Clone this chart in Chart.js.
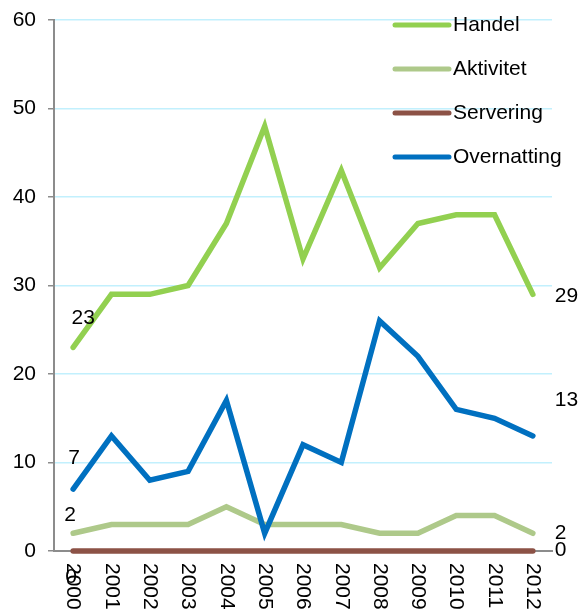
<!DOCTYPE html>
<html><head><meta charset="utf-8">
<script src="https://cdn.jsdelivr.net/npm/chart.js@4/dist/chart.umd.min.js"></script>
<style>html,body{margin:0;padding:0;background:#fff}#wrap{width:580px;height:610px;position:relative}</style>
</head><body><div id="wrap"><canvas id="c" width="580" height="610"></canvas></div>
<script>
const years = ['2000','2001','2002','2003','2004','2005','2006','2007','2008','2009','2010','2011','2012'];
const handel = [23,29,29,30,37,48,33,43,32,37,38,38,29];
const aktivitet = [2,3,3,3,5,3,3,3,2,2,4,4,2];
const servering = [0,0,0,0,0,0,0,0,0,0,0,0,0];
const overnatting = [7,13,8,9,17,2,12,10,26,22,16,15,13];
const seriesNames = ['Handel','Aktivitet','Servering','Overnatting'];
const seriesColors = ['#92D050','#AEC98A','#8C5246','#0070C0'];
const yTickValues = [0,10,20,30,40,50,60];

const FONT = '"Liberation Sans", Arial, sans-serif';
const FS = 21;

const dataSeries = [handel, aktivitet, servering, overnatting];
const drawOrder = [1, 3, 2, 0]; // lower = drawn on top

const datasets = seriesNames.map((n, i) => ({
  label: n,
  data: dataSeries[i],
  borderColor: seriesColors[i],
  backgroundColor: seriesColors[i],
  borderWidth: 5.5,
  pointRadius: 0,
  tension: 0,
  fill: false,
  borderCapStyle: 'round',
  borderJoinStyle: 'miter',
  order: drawOrder[i],
  clip: false
}));

const firstLabelOffset = [[10,-29],[-3,-18],[-2,26],[1,-31]];
const lastLabelOffset = [[22,2],[22,0],[22,-1],[22,-36]];

const labelPlugin = {
  id: 'endLabels',
  afterDatasetsDraw(chart) {
    const ctx = chart.ctx;
    ctx.save();
    ctx.font = FS + 'px ' + FONT;
    ctx.fillStyle = '#000';
    ctx.textBaseline = 'middle';
    chart.data.datasets.forEach((ds, i) => {
      const meta = chart.getDatasetMeta(i);
      const p0 = meta.data[0], pN = meta.data[meta.data.length - 1];
      ctx.textAlign = 'center';
      ctx.fillText(String(ds.data[0]), p0.x + firstLabelOffset[i][0], p0.y + firstLabelOffset[i][1]);
      ctx.textAlign = 'left';
      ctx.fillText(String(ds.data[ds.data.length - 1]), pN.x + lastLabelOffset[i][0], pN.y + lastLabelOffset[i][1]);
    });
    const xs = chart.scales.x;
    ctx.textAlign = 'left';
    ctx.textBaseline = 'middle';
    chart.data.labels.forEach((lab, k) => {
      const x = xs.getPixelForValue(k);
      ctx.save();
      ctx.translate(x, 563);
      ctx.rotate(Math.PI / 2);
      ctx.fillText(lab, 0, 0);
      ctx.restore();
    });
    const lx0 = 395, lx1 = 449, tx = 453;
    const ly = [25, 69, 113, 157];
    seriesNames.forEach((n, i) => {
      ctx.strokeStyle = seriesColors[i];
      ctx.lineWidth = 5;
      ctx.lineCap = 'round';
      ctx.beginPath();
      ctx.moveTo(lx0, ly[i]);
      ctx.lineTo(lx1, ly[i]);
      ctx.stroke();
      ctx.fillStyle = '#000';
      ctx.fillText(n, tx, ly[i]);
    });
    ctx.restore();
  }
};

new Chart(document.getElementById('c'), {
  type: 'line',
  data: { labels: years, datasets },
  options: {
    responsive: false,
    devicePixelRatio: 1,
    animation: false,
    layout: { padding: { top: 20, right: 28, left: 0, bottom: 0 } },
    plugins: { legend: { display: false }, tooltip: { enabled: false } },
    scales: {
      x: {
        type: 'category',
        offset: true,
        grid: { display: false, offset: true },
        border: { display: true, color: '#8c8c8c', width: 2 },
        ticks: { display: false },
        afterFit(s) { s.height = 59; s.paddingLeft = 0; s.paddingRight = 0; }
      },
      y: {
        min: 0, max: 60,
        afterBuildTicks(s) { s.ticks = yTickValues.map(v => ({ value: v })); },
        grid: { color: '#C2F0FD', lineWidth: 1.5, tickColor: '#8c8c8c', tickLength: 6, drawTicks: true },
        border: { display: true, color: '#8c8c8c', width: 2 },
        ticks: { color: '#000', font: { family: FONT, size: FS }, padding: 12 },
        afterFit(s) { s.width = 54; s.paddingTop = 0; s.paddingBottom = 0; }
      }
    }
  },
  plugins: [labelPlugin]
});
</script>
</body></html>
